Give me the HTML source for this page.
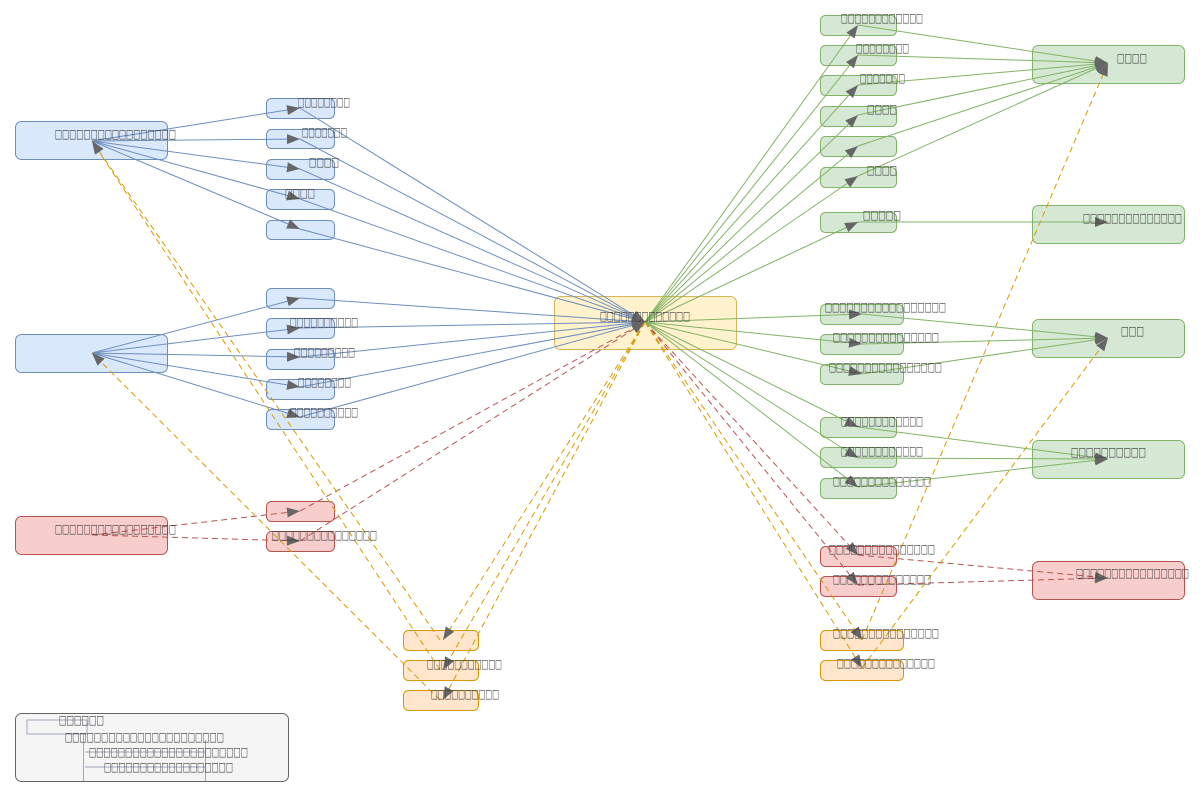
<!DOCTYPE html>
<html><head><meta charset="utf-8"><style>
html,body{margin:0;padding:0;background:#fff;}
svg{display:block}
text{font-family:"DejaVu Sans","Liberation Sans",sans-serif;font-size:12.5px;fill:#3a3a3a;}
</style></head><body>
<svg width="1200" height="797" viewBox="0 0 1200 797" xmlns="http://www.w3.org/2000/svg">
<defs>
<marker id="a" markerUnits="userSpaceOnUse" markerWidth="13" markerHeight="10" refX="13" refY="5" orient="auto"><path d="M0,0 L13,5 L0,10 z" fill="#666"/></marker>
</defs>

<g stroke-width="1">
<g fill="#dae8fc" stroke="#6c8ebf">
<rect x="15.5" y="121.5" width="152" height="38" rx="6"/>
<rect x="266.5" y="98.5" width="68" height="20" rx="5"/>
<rect x="266.5" y="129.5" width="68" height="19" rx="5"/>
<rect x="266.5" y="159.5" width="68" height="20" rx="5"/>
<rect x="266.5" y="189.5" width="68" height="20" rx="5"/>
<rect x="266.5" y="220.5" width="68" height="19" rx="5"/>
<rect x="15.5" y="334.5" width="152" height="38" rx="6"/>
<rect x="266.5" y="288.5" width="68" height="20" rx="5"/>
<rect x="266.5" y="318.5" width="68" height="20" rx="5"/>
<rect x="266.5" y="349.5" width="68" height="20" rx="5"/>
<rect x="266.5" y="379.5" width="68" height="20" rx="5"/>
<rect x="266.5" y="409.5" width="68" height="20" rx="5"/>
</g>
<g fill="#f8cecc" stroke="#b85450">
<rect x="15.5" y="516.5" width="152" height="38" rx="6"/>
<rect x="266.5" y="501.5" width="68" height="20" rx="5"/>
<rect x="266.5" y="531.5" width="68" height="20" rx="5"/>
<rect x="820.5" y="546.5" width="76" height="20" rx="5"/>
<rect x="820.5" y="576.5" width="76" height="20" rx="5"/>
<rect x="1032.5" y="561.5" width="152" height="38" rx="6"/>
</g>
<g fill="#ffe6cc" stroke="#d79b00">
<rect x="403.5" y="630.5" width="75" height="20" rx="5"/>
<rect x="403.5" y="660.5" width="75" height="20" rx="5"/>
<rect x="403.5" y="690.5" width="75" height="20" rx="5"/>
<rect x="820.5" y="630.5" width="83" height="20" rx="5"/>
<rect x="820.5" y="660.5" width="83" height="20" rx="5"/>
</g>
<rect x="554.5" y="296.5" width="182" height="53" rx="6" fill="#fff2cc" stroke="#d6b656"/>
<g fill="#d5e8d4" stroke="#82b366">
<rect x="820.5" y="15.5" width="76" height="20" rx="5"/>
<rect x="820.5" y="45.5" width="76" height="20" rx="5"/>
<rect x="820.5" y="75.5" width="76" height="20" rx="5"/>
<rect x="820.5" y="106.5" width="76" height="20" rx="5"/>
<rect x="820.5" y="136.5" width="76" height="20" rx="5"/>
<rect x="820.5" y="167.5" width="76" height="20" rx="5"/>
<rect x="820.5" y="212.5" width="76" height="20" rx="5"/>
<rect x="820.5" y="304.5" width="83" height="20" rx="5"/>
<rect x="820.5" y="334.5" width="83" height="20" rx="5"/>
<rect x="820.5" y="364.5" width="83" height="20" rx="5"/>
<rect x="820.5" y="417.5" width="76" height="20" rx="5"/>
<rect x="820.5" y="447.5" width="76" height="20" rx="5"/>
<rect x="820.5" y="478.5" width="76" height="20" rx="5"/>
<rect x="1032.5" y="45.5" width="152" height="38" rx="6"/>
<rect x="1032.5" y="205.5" width="152" height="38" rx="6"/>
<rect x="1032.5" y="319.5" width="152" height="38" rx="6"/>
<rect x="1032.5" y="440.5" width="152" height="38" rx="6"/>
</g>
<rect x="15.5" y="713.5" width="273" height="68" rx="6" fill="#f5f5f5" stroke="#666"/>
</g>

<g stroke="#a0a8bc" fill="none" stroke-width="1">
<path d="M27,720 H87 V734 H27 Z"/>
<path d="M83.5,734 V781"/>
<path d="M205.5,740 V781"/>
<path d="M85,752 H205 M85,767 H205"/>
</g>

<g fill="none" stroke-width="1" marker-end="url(#a)">
<g stroke="#6c8ebf">
<path d="M92,141 L300,108"/><path d="M92,141 L300,139"/><path d="M92,141 L300,169"/><path d="M92,141 L300,199"/><path d="M92,141 L300,229"/>
<path d="M300,108 L645,322"/><path d="M300,139 L645,322"/><path d="M300,169 L645,322"/><path d="M300,199 L645,322"/><path d="M300,229 L645,322"/>
<path d="M92,353 L300,298"/><path d="M92,353 L300,328"/><path d="M92,353 L300,357"/><path d="M92,353 L300,387"/><path d="M92,353 L300,417"/>
<path d="M300,298 L645,322"/><path d="M300,328 L645,322"/><path d="M300,357 L645,322"/><path d="M300,387 L645,322"/><path d="M300,417 L645,322"/>
</g>
<g stroke="#b85450" stroke-dasharray="6,4">
<path d="M92,535 L300,511"/><path d="M92,535 L300,541"/>
<path d="M300,511 L645,322"/><path d="M300,541 L645,322"/>
<path d="M645,322 L858,555"/><path d="M645,322 L858,585"/>
<path d="M858,555 L1108,578"/><path d="M858,585 L1108,578"/>
</g>
<g stroke="#d79b00" stroke-dasharray="6,4">
<path d="M645,322 L443,640"/><path d="M645,322 L443,670"/><path d="M645,322 L443,700"/>
<path d="M440,640 L92,141"/><path d="M440,670 L92,141"/><path d="M440,700 L92,353"/>
<path d="M645,322 L862,640"/><path d="M645,322 L862,668"/>
<path d="M862,640 L1108,63"/><path d="M862,668 L1108,338"/>
</g>
<g stroke="#82b366">
<path d="M645,322 L858,25"/><path d="M645,322 L858,55"/><path d="M645,322 L858,85"/><path d="M645,322 L858,115"/><path d="M645,322 L858,146"/><path d="M645,322 L858,176"/><path d="M645,322 L858,222"/>
<path d="M858,25 L1108,63"/><path d="M858,55 L1108,63"/><path d="M858,85 L1108,63"/><path d="M858,115 L1108,63"/><path d="M858,146 L1108,63"/><path d="M858,176 L1108,63"/>
<path d="M858,222 L1108,222"/>
<path d="M645,322 L862,314"/><path d="M645,322 L862,344"/><path d="M645,322 L862,374"/>
<path d="M862,314 L1108,338"/><path d="M862,344 L1108,338"/><path d="M862,374 L1108,338"/>
<path d="M645,322 L858,427"/><path d="M645,322 L858,458"/><path d="M645,322 L858,487"/>
<path d="M858,427 L1108,459"/><path d="M858,458 L1108,459"/><path d="M858,487 L1108,459"/>
</g>
</g>

<g>
<text x="55" y="138" textLength="121" lengthAdjust="spacingAndGlyphs">□□□□□□□□□□□□□□□□□</text>
<text x="298" y="106" textLength="52" lengthAdjust="spacingAndGlyphs">□□□□□□□□</text>
<text x="302" y="136" textLength="45" lengthAdjust="spacingAndGlyphs">□□□□□□□</text>
<text x="309" y="166" textLength="30" lengthAdjust="spacingAndGlyphs">□□□□</text>
<text x="285" y="197" textLength="30" lengthAdjust="spacingAndGlyphs">□□□□</text>
<text x="290" y="326" textLength="68" lengthAdjust="spacingAndGlyphs">□□□□□□□□□□</text>
<text x="294" y="356" textLength="61" lengthAdjust="spacingAndGlyphs">□□□□□□□□□</text>
<text x="298" y="386" textLength="53" lengthAdjust="spacingAndGlyphs">□□□□□□□□</text>
<text x="290" y="416" textLength="68" lengthAdjust="spacingAndGlyphs">□□□□□□□□□□</text>
<text x="55" y="533" textLength="121" lengthAdjust="spacingAndGlyphs">□□□□□□□□□□□□□□□□□</text>
<text x="272" y="539" textLength="105" lengthAdjust="spacingAndGlyphs">□□□□□□□□□□□□□□□</text>
<text x="427" y="668" textLength="75" lengthAdjust="spacingAndGlyphs">□□□□□□□□□□□</text>
<text x="431" y="698" textLength="68" lengthAdjust="spacingAndGlyphs">□□□□□□□□□□</text>
<text x="600" y="320" textLength="90" lengthAdjust="spacingAndGlyphs">□□□□□□□□□□□□□</text>
<text x="841" y="22" textLength="82" lengthAdjust="spacingAndGlyphs">□□□□□□□□□□□□</text>
<text x="856" y="52" textLength="53" lengthAdjust="spacingAndGlyphs">□□□□□□□□</text>
<text x="860" y="82" textLength="45" lengthAdjust="spacingAndGlyphs">□□□□□□□</text>
<text x="867" y="113" textLength="30" lengthAdjust="spacingAndGlyphs">□□□□</text>
<text x="867" y="174" textLength="30" lengthAdjust="spacingAndGlyphs">□□□□</text>
<text x="863" y="219" textLength="38" lengthAdjust="spacingAndGlyphs">□□□□□</text>
<text x="1117" y="62" textLength="30" lengthAdjust="spacingAndGlyphs">□□□□</text>
<text x="1083" y="222" textLength="99" lengthAdjust="spacingAndGlyphs">□□□□□□□□□□□□□□</text>
<text x="825" y="311" textLength="121" lengthAdjust="spacingAndGlyphs">□□□□□□□□□□□□□□□□□</text>
<text x="833" y="341" textLength="106" lengthAdjust="spacingAndGlyphs">□□□□□□□□□□□□□□□</text>
<text x="829" y="371" textLength="113" lengthAdjust="spacingAndGlyphs">□□□□□□□□□□□□□□□□</text>
<text x="1121" y="335" textLength="23" lengthAdjust="spacingAndGlyphs">□□□</text>
<text x="841" y="425" textLength="82" lengthAdjust="spacingAndGlyphs">□□□□□□□□□□□□</text>
<text x="841" y="455" textLength="82" lengthAdjust="spacingAndGlyphs">□□□□□□□□□□□□</text>
<text x="833" y="485" textLength="98" lengthAdjust="spacingAndGlyphs">□□□□□□□□□□□□□□</text>
<text x="1071" y="456" textLength="75" lengthAdjust="spacingAndGlyphs">□□□□□□□□□□</text>
<text x="829" y="553" textLength="106" lengthAdjust="spacingAndGlyphs">□□□□□□□□□□□□□□□</text>
<text x="833" y="583" textLength="98" lengthAdjust="spacingAndGlyphs">□□□□□□□□□□□□□□</text>
<text x="1076" y="577" textLength="113" lengthAdjust="spacingAndGlyphs">□□□□□□□□□□□□□□□□</text>
<text x="833" y="637" textLength="106" lengthAdjust="spacingAndGlyphs">□□□□□□□□□□□□□□□</text>
<text x="837" y="667" textLength="98" lengthAdjust="spacingAndGlyphs">□□□□□□□□□□□□□□</text>
<text x="59" y="724" textLength="45" lengthAdjust="spacingAndGlyphs">□□□□□□</text>
<text x="65" y="741" textLength="159" lengthAdjust="spacingAndGlyphs">□□□□□□□□□□□□□□□□□□□□□□</text>
<text x="89" y="756" textLength="159" lengthAdjust="spacingAndGlyphs">□□□□□□□□□□□□□□□□□□□□□□</text>
<text x="104" y="771" textLength="129" lengthAdjust="spacingAndGlyphs">□□□□□□□□□□□□□□□□□□</text>
</g>
</svg>
</body></html>
